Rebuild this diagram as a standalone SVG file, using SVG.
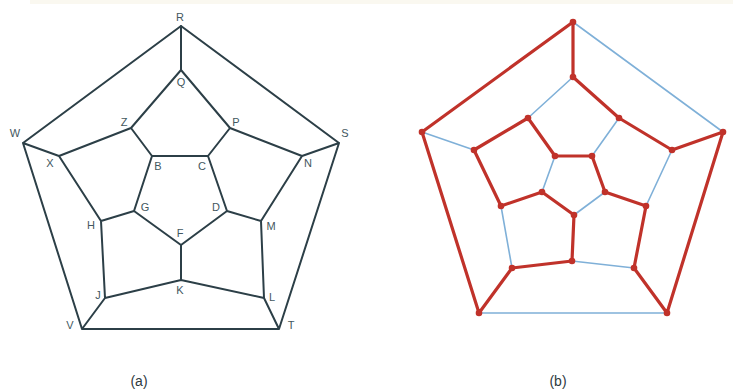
<svg xmlns="http://www.w3.org/2000/svg" width="733" height="392" viewBox="0 0 733 392">
<style>
.a{stroke:#2c3f47;stroke-width:2;fill:none;stroke-linecap:round}
.r{stroke:#c0322a;stroke-width:3.2;fill:none;stroke-linecap:round}
.b{stroke:#7fb0d8;stroke-width:1.6;fill:none}
.lbl{font-family:"Liberation Sans",Arial,sans-serif;font-size:11px;fill:#435760;text-anchor:middle}
.cap{font-family:"Liberation Sans",Arial,sans-serif;font-size:14px;fill:#2e3a40;text-anchor:middle}
.dot{fill:#c0322a}
</style>
<rect x="0" y="0" width="733" height="392" fill="#ffffff"/>
<rect x="30" y="0" width="703" height="4" fill="#faf8f0"/>
<g id="connectors-a">
<path class="a" d="M181,26L181,70 M181,26L23,143 M181,26L339,143 M181,70L131,128 M181,70L230,128 M131,128L59,156 M131,128L152,156 M230,128L208,156 M230,128L302,156 M23,143L59,156 M23,143L82,329 M339,143L302,156 M339,143L279,329 M59,156L101,221 M302,156L261,221 M152,156L208,156 M152,156L134,211 M208,156L227,211 M134,211L101,221 M134,211L181,245 M227,211L181,245 M227,211L261,221 M101,221L105,298 M261,221L264,298 M181,245L181,280 M105,298L181,280 M181,280L264,298 M105,298L82,329 M264,298L279,329 M82,329L279,329"/>
</g>
<g id="labels-a">
<g id="R"><text class="lbl" x="180" y="21">R</text></g>
<g id="Q"><text class="lbl" x="181" y="86">Q</text></g>
<g id="Z"><text class="lbl" x="124" y="126">Z</text></g>
<g id="P"><text class="lbl" x="236" y="126">P</text></g>
<g id="W"><text class="lbl" x="15" y="137">W</text></g>
<g id="S"><text class="lbl" x="345" y="137">S</text></g>
<g id="X"><text class="lbl" x="50" y="167">X</text></g>
<g id="B"><text class="lbl" x="158" y="170">B</text></g>
<g id="C"><text class="lbl" x="202" y="170">C</text></g>
<g id="N"><text class="lbl" x="308" y="167">N</text></g>
<g id="G"><text class="lbl" x="145" y="211">G</text></g>
<g id="D"><text class="lbl" x="216" y="211">D</text></g>
<g id="H"><text class="lbl" x="91" y="229">H</text></g>
<g id="M"><text class="lbl" x="271" y="230">M</text></g>
<g id="F"><text class="lbl" x="180" y="237">F</text></g>
<g id="K"><text class="lbl" x="180" y="294">K</text></g>
<g id="J"><text class="lbl" x="98" y="299">J</text></g>
<g id="L"><text class="lbl" x="272" y="301">L</text></g>
<g id="V"><text class="lbl" x="70" y="329">V</text></g>
<g id="T"><text class="lbl" x="291" y="329">T</text></g>
</g>
<g id="connectors-b">
<path class="b" d="M573,22L723,132 M573,77L528,118 M619,118L592,156 M422,132L474,150 M672,150L646,206 M555,156L542,192 M605,192L574,215 M501,206L512,268 M572,261L634,268 M479,313L667,313"/>
<path class="r" d="M573,22L573,77L619,118L672,150L723,132L667,313L634,268L646,206L605,192L592,156L555,156L528,118L474,150L501,206L542,192L574,215L572,261L512,268L479,313L422,132Z" stroke-linejoin="round"/>
</g>
<g id="nodes-b">
<circle class="dot" cx="573" cy="22" r="3.3"/>
<circle class="dot" cx="573" cy="77" r="3.3"/>
<circle class="dot" cx="528" cy="118" r="3.3"/>
<circle class="dot" cx="619" cy="118" r="3.3"/>
<circle class="dot" cx="422" cy="132" r="3.3"/>
<circle class="dot" cx="723" cy="132" r="3.3"/>
<circle class="dot" cx="474" cy="150" r="3.3"/>
<circle class="dot" cx="672" cy="150" r="3.3"/>
<circle class="dot" cx="555" cy="156" r="3.3"/>
<circle class="dot" cx="592" cy="156" r="3.3"/>
<circle class="dot" cx="542" cy="192" r="3.3"/>
<circle class="dot" cx="605" cy="192" r="3.3"/>
<circle class="dot" cx="501" cy="206" r="3.3"/>
<circle class="dot" cx="646" cy="206" r="3.3"/>
<circle class="dot" cx="574" cy="215" r="3.3"/>
<circle class="dot" cx="572" cy="261" r="3.3"/>
<circle class="dot" cx="512" cy="268" r="3.3"/>
<circle class="dot" cx="634" cy="268" r="3.3"/>
<circle class="dot" cx="479" cy="313" r="3.3"/>
<circle class="dot" cx="667" cy="313" r="3.3"/>
</g>
<g id="captions">
<text class="cap" x="139" y="386">(a)</text>
<text class="cap" x="558" y="386">(b)</text>
</g>
</svg>
